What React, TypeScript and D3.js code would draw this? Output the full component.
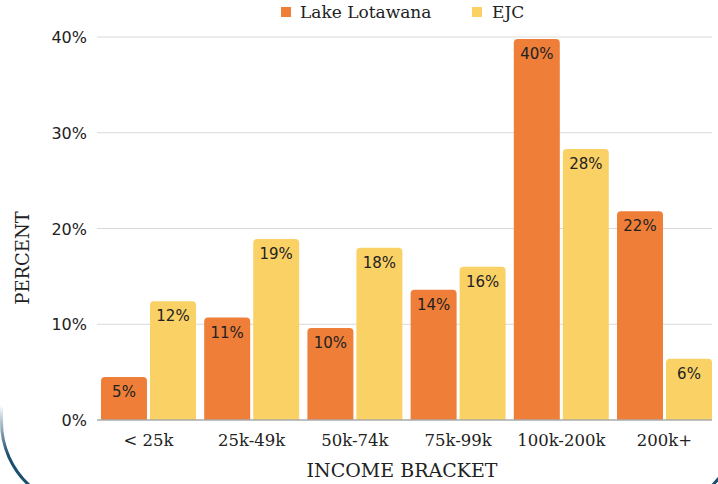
import React from "react";
import * as d3 from "d3";

const categories = ["< 25k", "25k-49k", "50k-74k", "75k-99k", "100k-200k", "200k+"];
const seriesNames = ["Lake Lotawana", "EJC"];
const lakeValues = [4.5, 10.7, 9.6, 13.6, 39.8, 21.8];
const ejcValues = [12.4, 18.9, 18.0, 16.0, 28.3, 6.4];
const lakeLabels = ["5%", "11%", "10%", "14%", "40%", "22%"];
const ejcLabels = ["12%", "19%", "18%", "16%", "28%", "6%"];
const yTicks = [0, 10, 20, 30, 40];

const COLORS = ["#EE7E38", "#FAD165"];
const SERIF = "'DejaVu Serif', serif";
const SANS = "'DejaVu Sans', 'Noto Sans', sans-serif";

function topRounded(x: number, y: number, w: number, h: number, r: number) {
  const rr = Math.min(r, h, w / 2);
  return `M${x},${y + h}V${y + rr}Q${x},${y} ${x + rr},${y}H${x + w - rr}Q${x + w},${y} ${x + w},${y + rr}V${y + h}Z`;
}

export default function App() {
  const W = 718, H = 484;
  const x0 = d3.scaleBand<string>().domain(categories).range([97, 716.2]).paddingInner(0).paddingOuter(0);
  const y = d3.scaleLinear().domain([0, 40]).range([420, 37]);
  const barW = 46, gap = 3, pad = 4;
  const series = [
    { values: lakeValues, labels: lakeLabels },
    { values: ejcValues, labels: ejcLabels },
  ];
  return (
    <svg width={W} height={H} style={{ position: "absolute", left: 0, top: 0, background: "#fff" }}>
      <defs>
        <linearGradient id="bord" x1="0" y1="405" x2="0" y2="455" gradientUnits="userSpaceOnUse">
          <stop offset="0" stopColor="#1B4F6E" stopOpacity={0} />
          <stop offset="1" stopColor="#1B4F6E" stopOpacity={1} />
        </linearGradient>
      </defs>
      {/* decorative frame corners */}
      <path d={`M1.5,400 V422 A86,86 0 0 0 30,486`} fill="none" stroke="url(#bord)" strokeWidth={3} />
      <path d={`M712,486 L719,478`} fill="none" stroke="#1B4F6E" strokeWidth={3} />
      {/* gridlines */}
      {yTicks.map((t) => (
        <g key={t}>
          {t > 0 && <line x1={97} x2={712} y1={y(t)} y2={y(t)} stroke="#D9D9D9" strokeWidth={1.2} />}
          <text x={87} y={y(t) + 6} textAnchor="end" fontFamily={SANS} fontSize={16} fill="#222">
            {t}%
          </text>
        </g>
      ))}
      {/* bars */}
      {categories.map((c, i) => (
        <g key={c}>
          {series.map((s, j) => {
            const bx = (x0(c) as number) + pad + j * (barW + gap);
            const by = y(s.values[i]);
            const bh = y(0) - by;
            return (
              <g key={j}>
                <path d={topRounded(bx, by, barW, bh, 4)} fill={COLORS[j]} />
                <text x={bx + barW / 2} y={by + 20} textAnchor="middle" fontFamily={SANS} fontSize={15} fill="#222">
                  {s.labels[i]}
                </text>
              </g>
            );
          })}
          <text x={(x0(c) as number) + pad + barW + gap / 2} y={446} textAnchor="middle" fontFamily={SERIF} fontSize={16.5} fill="#222">
            {c}
          </text>
        </g>
      ))}
      <line x1={97} x2={712} y1={y(0)} y2={y(0)} stroke="#AAAAAA" strokeWidth={1.5} />
      {/* axis titles */}
      <text x={402} y={477} textAnchor="middle" fontFamily={SERIF} fontSize={19} fill="#222">
        INCOME BRACKET
      </text>
      <text transform={`translate(29,258) rotate(-90)`} textAnchor="middle" fontFamily={SERIF} fontSize={18} fill="#222">
        PERCENT
      </text>
      {/* legend */}
      <rect x={281} y={7} width={10} height={10} fill={COLORS[0]} />
      <text x={300} y={18} fontFamily={SERIF} fontSize={17} fill="#222">{seriesNames[0]}</text>
      <rect x={472} y={7} width={10} height={10} fill={COLORS[1]} />
      <text x={492} y={18} fontFamily={SERIF} fontSize={17} fill="#222">{seriesNames[1]}</text>
    </svg>
  );
}
